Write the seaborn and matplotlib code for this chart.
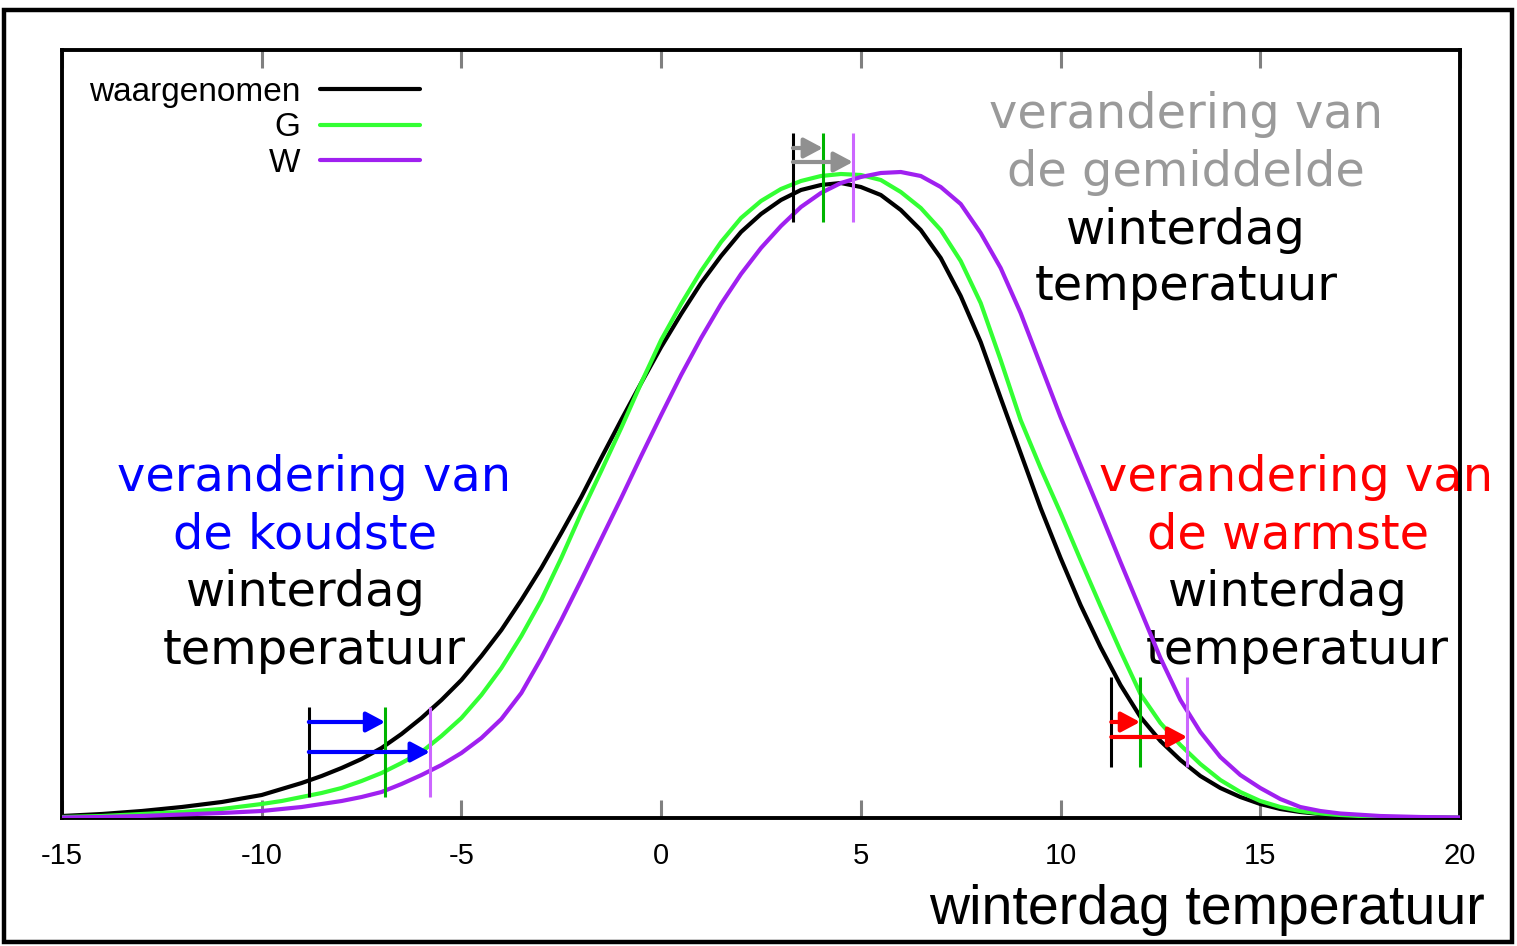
import matplotlib
matplotlib.use("Agg")
import matplotlib.pyplot as plt
import seaborn as sns
import pandas as pd
from matplotlib import font_manager
from matplotlib.patches import Rectangle

# ---------------- data ----------------
temperatures = [-15, -14, -13, -12, -11, -10,
                -9.5, -9, -8.5, -8, -7.5, -7, -6.5, -6, -5.5, -5, -4.5, -4, -3.5, -3,
                -2.5, -2, -1.5, -1, -0.5, 0, 0.5, 1, 1.5, 2, 2.5, 3, 3.5, 4, 4.5, 5,
                5.5, 6, 6.5, 7, 7.5, 8, 8.5, 9, 9.5, 10, 10.5, 11, 11.5, 12, 12.5, 13,
                13.5, 14, 14.5, 15, 15.5, 16, 16.5, 17, 18, 19, 20]
waargenomen = [2, 4, 7, 11, 16, 23,
               29, 35, 42, 50, 59, 70, 84, 100, 118, 138, 162, 188, 218, 250,
               285, 321, 360, 398, 435, 471, 504, 535, 562, 586, 604, 618, 628, 633, 635, 631,
               623, 608, 588, 560, 522, 476, 420, 365, 310, 260, 213, 171, 133, 101, 77, 58,
               42, 30, 21, 14, 9, 6, 4, 2.5, 1, 0.5, 0.2]
scenario_G = [1, 2, 4, 6, 9, 14,
              17, 21, 25, 30, 37, 45, 55, 66, 82, 100, 123, 150, 182, 218,
              260, 305, 347, 390, 435, 478, 514, 547, 576, 600, 617, 629, 637, 642, 644, 643,
              638, 626, 610, 588, 557, 515, 458, 398, 350, 305, 258, 212, 167, 124, 95, 73,
              54, 38, 26, 17, 11, 7, 4.5, 3, 1, 0.5, 0.2]
scenario_W = [0.5, 1, 2, 3.5, 5, 7,
              9, 11, 14, 17, 21, 26, 34, 43, 53, 65, 80, 99, 125, 160,
              198, 238, 279, 320, 362, 403, 443, 480, 514, 544, 570, 592, 611, 625, 635, 641,
              645, 646, 642, 631, 614, 585, 550, 505, 453, 401, 353, 305, 256, 208, 160, 118,
              86, 61, 43, 30, 19, 11, 7, 4.5, 2, 1, 0.5]
series_names = ["waargenomen", "G", "W"]
legend_labels = ["waargenomen", "G", "W"]

mean_markers = [3.30, 4.05, 4.80]      # gemiddelde winterdag
cold_markers = [-8.82, -6.91, -5.79]   # koudste winterdag
warm_markers = [11.27, 11.99, 13.17]   # warmste winterdag

xticks = [-15, -10, -5, 0, 5, 10, 15, 20]
xlabel = "winterdag temperatuur"

# ---------------- style ----------------
W_PX, H_PX, DPI = 1517, 946, 100
sns.set_theme(style="white")
avail = {f.name for f in font_manager.fontManager.ttflist}
narrow = "Liberation Sans Narrow" if "Liberation Sans Narrow" in avail else "Liberation Sans"
plt.rcParams["font.family"] = ["DejaVu Sans"]
plt.rcParams["text.color"] = "black"

curve_colors = {"waargenomen": "#000000", "G": "#33ff33", "W": "#a020f0"}
marker_colors = ["#000000", "#00b400", "#cc66ff"]

df = pd.DataFrame({
    "temp": temperatures * 3,
    "freq": waargenomen + scenario_G + scenario_W,
    "reeks": sum([[n] * len(temperatures) for n in series_names], []),
})

fig = plt.figure(figsize=(W_PX / DPI, H_PX / DPI), dpi=DPI)
fig.patch.set_facecolor("white")
L, R, T, B = 62, 1460, 50, 818
ax = fig.add_axes([L / W_PX, 1 - B / H_PX, (R - L) / W_PX, (B - T) / H_PX])

sns.lineplot(data=df, x="temp", y="freq", hue="reeks", hue_order=series_names,
             palette=curve_colors, linewidth=3.0, ax=ax, zorder=3)

ax.set_xlim(-15, 20)
ax.set_ylim(0, 768)
ax.set_xticks(xticks)
ax.set_xticklabels([str(t) for t in xticks], fontfamily=narrow, fontsize=21,
                   color="black")
ax.set_yticks([])
ax.set_xlabel("")
ax.set_ylabel("")
ax.tick_params(axis="x", direction="in", length=13, width=2.2, color="#808080",
               top=True, bottom=True, labeltop=False, pad=17)
for s in ax.spines.values():
    s.set_color("black")
    s.set_linewidth(2.8)
    s.set_visible(True)
    s.set_zorder(2.5)

# marker lines + arrows
def markers(xs, y0, y1, arrow_ys, arrow_color):
    for xv, c in zip(xs, marker_colors):
        ax.vlines(xv, y0, y1, colors=c, linewidth=2.2, zorder=4)
    for xt, ya in zip(xs[1:], arrow_ys):
        ax.annotate("", xy=(xt, ya), xytext=(xs[0], ya),
                    arrowprops=dict(arrowstyle="-|>,head_length=0.6,head_width=0.32",
                                    color=arrow_color, lw=3, shrinkA=0, shrinkB=0,
                                    mutation_scale=19), zorder=5)

markers(mean_markers, 596, 685, [670, 656], "#909090")
markers(cold_markers, 21, 111, [96, 66], "#0000ff")
markers(warm_markers, 51, 141, [96, 81], "#ff0000")

# legend (gnuplot style: label left, sample right)
handles, _ = ax.get_legend_handles_labels()
leg = ax.legend(handles, legend_labels, loc="upper right",
                bbox_to_anchor=((420 - L) / (R - L), 1 - (77 - T) / (B - T)),
                frameon=False, markerfirst=False, handlelength=3.0, handletextpad=0.6,
                labelspacing=0.13, borderaxespad=0.0, borderpad=0.0,
                labelcolor="black", prop={"family": narrow, "size": 24})
for line in leg.get_lines():
    line.set_linewidth(3.0)

# annotation texts (drawn under the axes frame, like the original)
def ftext(xc, yc, s, color, size=34.5, family="DejaVu Sans"):
    ax.text(xc / W_PX, 1 - yc / H_PX, s, color=color, fontsize=size,
            ha="center", va="center", family=family, zorder=2,
            transform=fig.transFigure, clip_on=False)

for (xc, yc, s, col) in [
    (1186, 115, "verandering van", "#9a9a9a"),
    (1186, 172, "de gemiddelde", "#9a9a9a"),
    (1186, 230, "winterdag", "black"),
    (1186, 287, "temperatuur", "black"),
    (314, 477, "verandering van", "#0000ff"),
    (305, 535, "de koudste", "#0000ff"),
    (306, 593, "winterdag", "black"),
    (314, 650, "temperatuur", "black"),
    (1296, 477, "verandering van", "#ff0000"),
    (1288, 535, "de warmste", "#ff0000"),
    (1288, 593, "winterdag", "black"),
    (1297, 650, "temperatuur", "black"),
]:
    ftext(xc, yc, s, col)

fig.text(1485 / W_PX, 1 - 924 / H_PX, xlabel, ha="right", va="baseline",
         fontsize=40, family=narrow, color="black")

# outer frame
fig.patches.append(Rectangle((4 / W_PX, 4 / H_PX), 1508 / W_PX, (942 - 10) / H_PX,
                             transform=fig.transFigure, fill=False,
                             edgecolor="black", linewidth=3.2))

fig.savefig("out.png", dpi=DPI, facecolor="white")
